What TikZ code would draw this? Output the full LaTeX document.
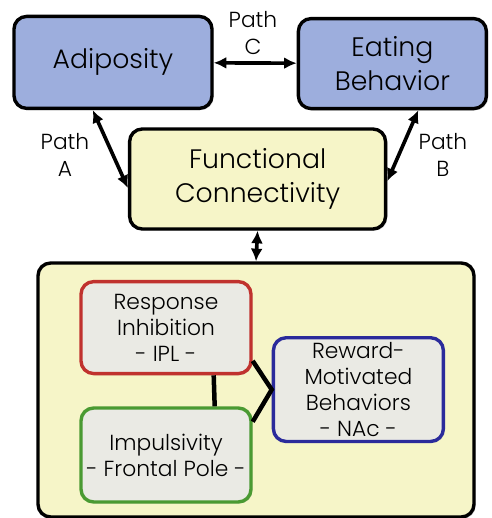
\documentclass[tikz,border=0pt]{standalone}
\usepackage{fontspec}
\setmainfont{Poppins}[UprightFont=* Light]
\usepackage{xcolor}
\usetikzlibrary{positioning, arrows.meta, shadows}
\definecolor{MeasureBlue}{HTML}{9DAEDD}
\definecolor{PanelYellow}{HTML}{F6F5C8}
\definecolor{RegionGray}{HTML}{EAEAE4}
\definecolor{InhibRed}{HTML}{C0322E}
\definecolor{ImpulsGreen}{HTML}{4A9A32}
\definecolor{RewardBlue}{HTML}{2B2B9B}

\begin{document}
\begin{tikzpicture}[
    outerbox/.style={draw=black, line width=2.4pt, rounded corners=9pt, align=center,
        font=\fontsize{19}{24}\selectfont,
        drop shadow={opacity=0.35, shadow xshift=1.2pt, shadow yshift=-1.2pt}},
    regionbox/.style={draw=#1, fill=RegionGray, line width=2.4pt, rounded corners=9pt, align=center,
        font=\fontsize{15.5}{18.5}\selectfont,
        drop shadow={opacity=0.3, shadow xshift=1pt, shadow yshift=-1pt}},
    link/.style={line width=2.6pt, {Latex[length=9pt,width=8.5pt]}-{Latex[length=9pt,width=8.5pt]}},
    bond/.style={line width=3.2pt},
    pathlbl/.style={align=center, font=\fontsize{15.5}{19}\selectfont}
]
\useasboundingbox (0,0) rectangle (12.3,12.95);

% Measures
\node[outerbox, fill=MeasureBlue, minimum width=4.95cm, minimum height=2.3cm] (adip) at (2.825,11.39) {Adiposity};
\node[outerbox, fill=MeasureBlue, minimum width=4.7cm, minimum height=2.25cm] (eat) at (9.81,11.36) {Eating\\Behavior};
\node[outerbox, fill=PanelYellow, minimum width=6.4cm, minimum height=2.5cm] (fc) at (6.44,8.475) {Functional\\Connectivity};

% Panel with the networks
\node[outerbox, fill=PanelYellow, minimum width=10.9cm, minimum height=6.35cm] (panel) at (6.4,3.2) {};
\node[regionbox=InhibRed, minimum width=4.25cm, minimum height=2.3cm] (inhib) at (4.15,4.76) {Response\\Inhibition\\- IPL -};
\node[regionbox=ImpulsGreen, minimum width=4.25cm, minimum height=2.35cm] (impuls) at (4.15,1.575) {Impulsivity\\- Frontal Pole -};
\node[regionbox=RewardBlue, minimum width=4.25cm, minimum height=2.55cm] (reward) at (8.96,3.21) {Reward-\\Motivated\\Behaviors\\- NAc -};

% Paths
\draw[link] (adip) -- (eat);
\draw[link] (adip.247) -- (fc.184);
\draw[link] (eat.-61) -- (fc.-1);
\draw[link] (fc.south) -- (panel.north);
\node[pathlbl] (pc) at (6.325,12.125) {Path\\C};
\node[pathlbl] (pa) at (1.625,9.075) {Path\\A};
\node[pathlbl] (pb) at (11.075,9.075) {Path\\B};

% Links between regions
\draw[bond] (inhib.-45) -- (impuls.45);
\draw[bond] (inhib.-21) -- (reward.west) -- (impuls.21);
\end{tikzpicture}
\end{document}
